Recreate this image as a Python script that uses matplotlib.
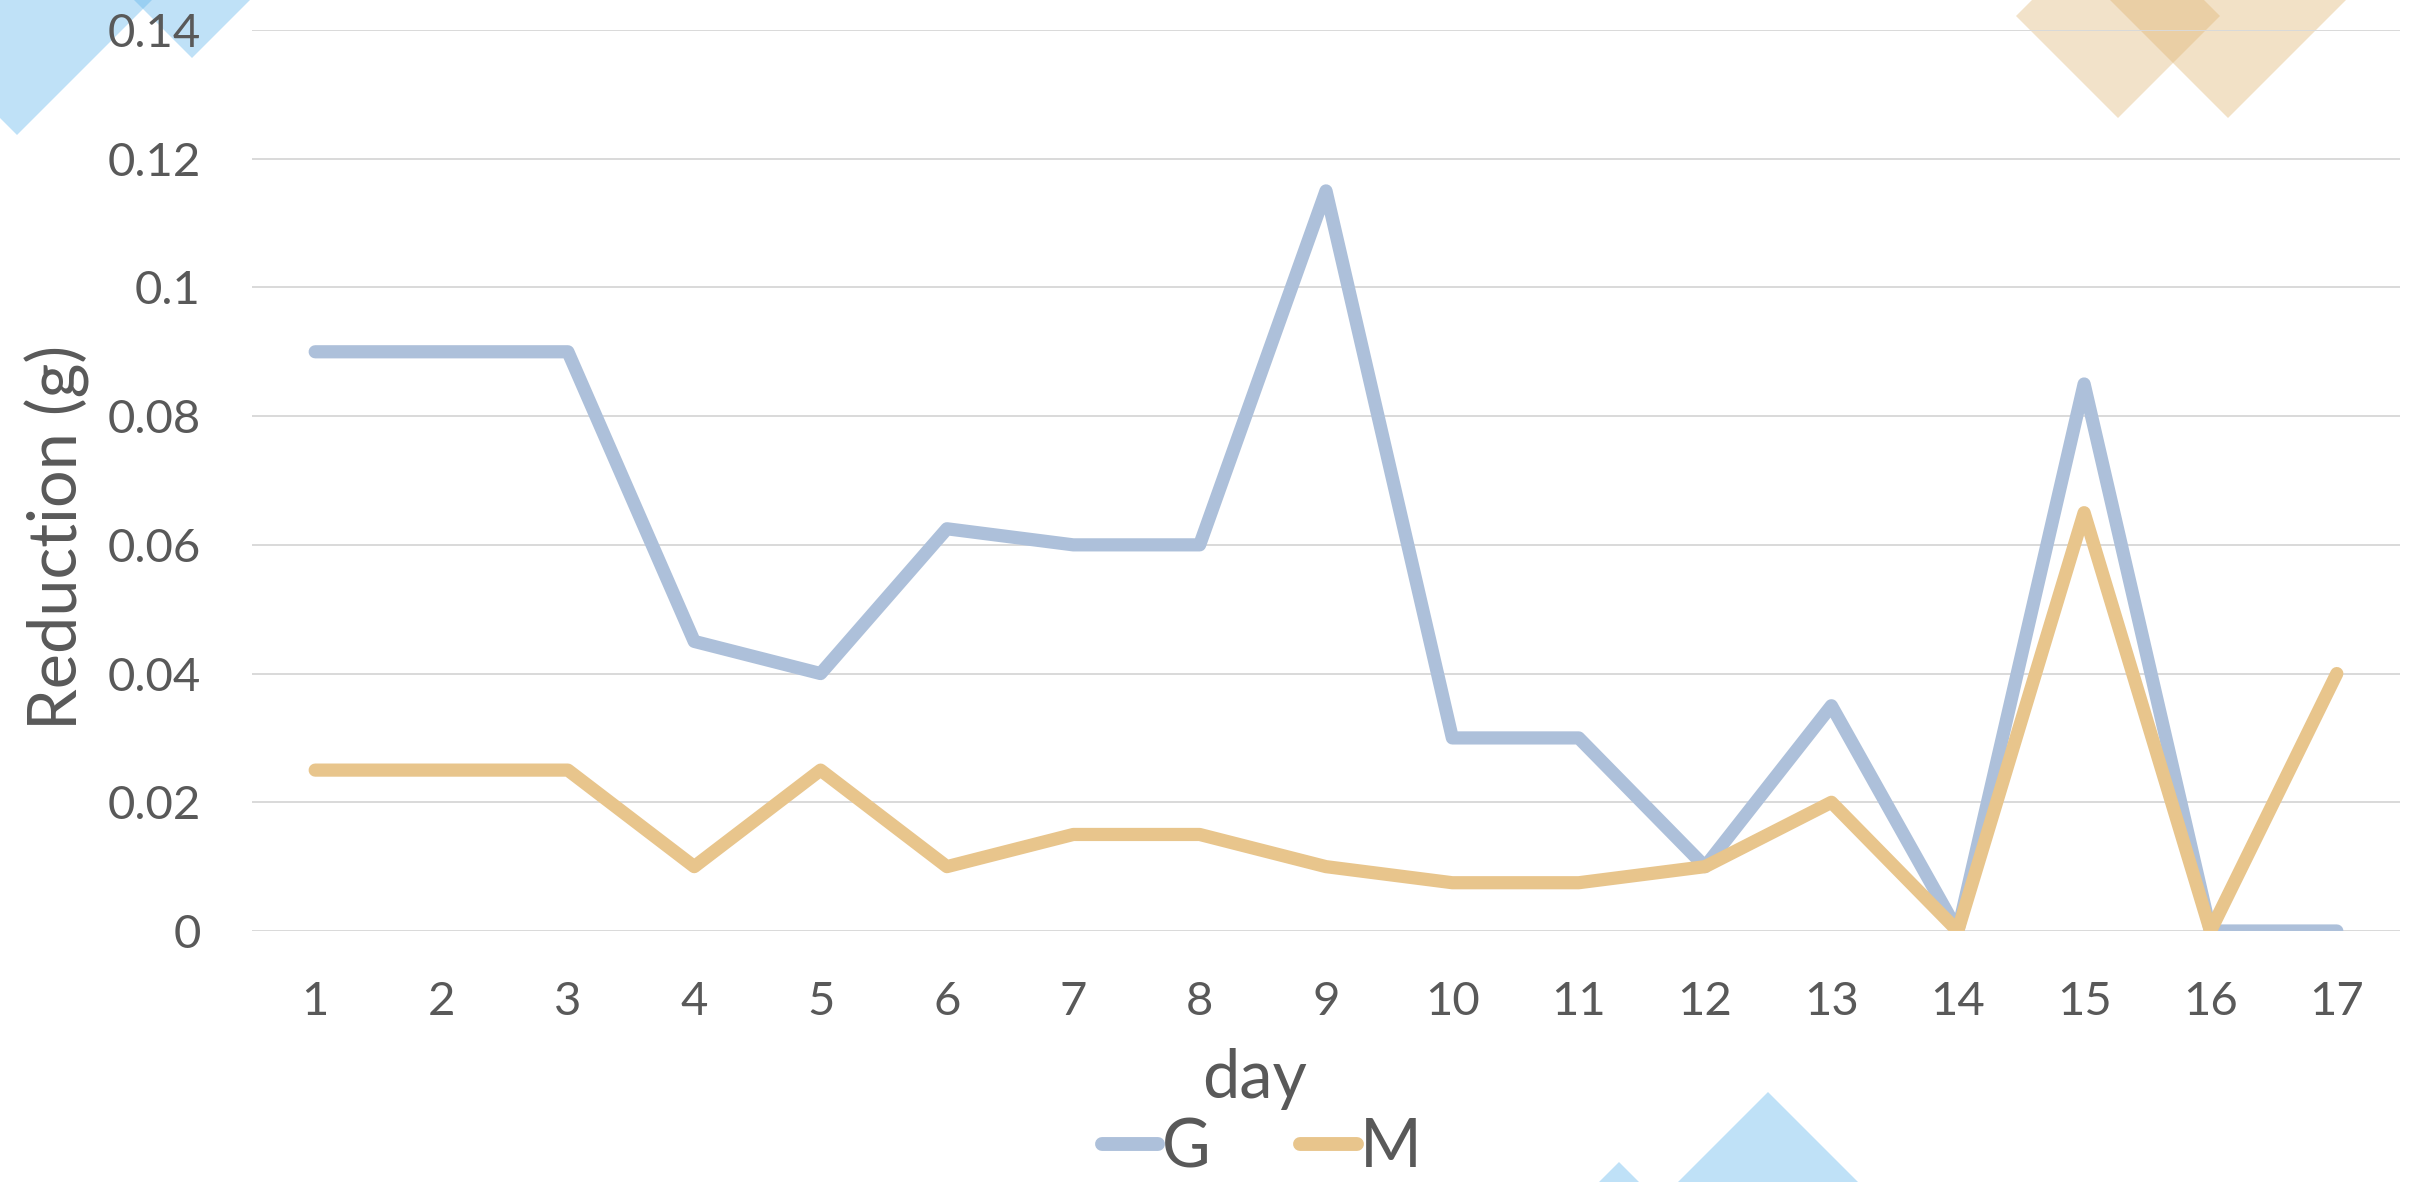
import matplotlib
matplotlib.use("Agg")
import matplotlib.pyplot as plt
from matplotlib.patches import Polygon

# ---- data ----
days = [str(d) for d in range(1, 18)]
G = [0.09, 0.09, 0.09, 0.045, 0.04, 0.0625, 0.06, 0.06, 0.115, 0.03, 0.03,
     0.01, 0.035, 0.0, 0.085, 0.0, 0.0]
M = [0.025, 0.025, 0.025, 0.01, 0.025, 0.01, 0.015, 0.015, 0.01, 0.0075, 0.0075,
     0.01, 0.02, 0.0, 0.065, 0.0, 0.04]
yticks = [0, 0.02, 0.04, 0.06, 0.08, 0.1, 0.12, 0.14]
ytick_labels = ["0", "0.02", "0.04", "0.06", "0.08", "0.1", "0.12", "0.14"]

plt.rcParams['font.family'] = ['Lato', 'DejaVu Sans']
TXT = '#595959'
W, H = 2433, 1182
fig = plt.figure(figsize=(W / 100, H / 100), dpi=100)

# ---- background decorations (pixel coords) ----
bg = fig.add_axes([0, 0, 1, 1], zorder=-1)
bg.set_xlim(0, W)
bg.set_ylim(H, 0)
bg.axis('off')
blue = (97 / 255, 182 / 255, 235 / 255)
tan = (223 / 255, 180 / 255, 113 / 255)
big = 400

def down_tri(x, y, c):
    bg.add_patch(Polygon([(x, y), (x + big, y - big), (x - big, y - big)],
                         closed=True, fc=c, ec='none', alpha=0.4))

def up_tri(x, y, c):
    bg.add_patch(Polygon([(x, y), (x + big, y + big), (x - big, y + big)],
                         closed=True, fc=c, ec='none', alpha=0.4))

down_tri(17, 135, blue)
down_tri(192, 58, blue)
bg.add_patch(Polygon([(2016, 16), (2118, 118), (2220, 16), (2118, -86)],
                     closed=True, fc=tan, ec='none', alpha=0.38))
down_tri(2228, 118, tan)
up_tri(1619, 1162, blue)
up_tri(1768, 1092, blue)

# ---- main axes ----
left, right, top, bottom = 252, 2400, 30, 931
ax = fig.add_axes([left / W, 1 - bottom / H, (right - left) / W, (bottom - top) / H])
ax.set_facecolor('none')
x = list(range(1, 18))
lg, = ax.plot(x, G, color='#ADC0DA', lw=9.5, solid_capstyle='round',
              solid_joinstyle='round', label='G', zorder=3)
lm, = ax.plot(x, M, color='#E8C58C', lw=9.5, solid_capstyle='round',
              solid_joinstyle='round', label='M', zorder=4)
ax.set_xlim(0.5, 17.5)
ax.set_ylim(0, 0.14)
ax.set_xticks(x)
ax.set_xticklabels(days)
ax.set_yticks(yticks)
ax.set_yticklabels(ytick_labels)
ax.tick_params(axis='both', length=0, labelsize=34, labelcolor=TXT)
ax.tick_params(axis='y', pad=37)
ax.tick_params(axis='x', pad=36)
ax.grid(axis='y', color='#D9D9D9', lw=1.4, zorder=0)
ax.set_axisbelow(True)
for s in ax.spines.values():
    s.set_visible(False)

fig.text(57 / W, 1 - 537 / H, 'Reduction (g)', rotation=90, ha='center', va='center',
         fontsize=48, color=TXT)
fig.text(1255 / W, 1 - 1098 / H, 'day', ha='center', va='baseline',
         fontsize=48, color=TXT)

leg = fig.legend(handles=[lg, lm], loc='center', bbox_to_anchor=(1262 / W, 1 - 1148 / H),
                 ncol=2, frameon=False, fontsize=48, handlelength=0.85,
                 handletextpad=0.05, columnspacing=1.35, borderpad=0, borderaxespad=0)
for t in leg.get_texts():
    t.set_color(TXT)
for h in leg.legend_handles:
    h.set_linewidth(10)
    h.set_solid_capstyle('round')

fig.savefig('out.png', dpi=100)
